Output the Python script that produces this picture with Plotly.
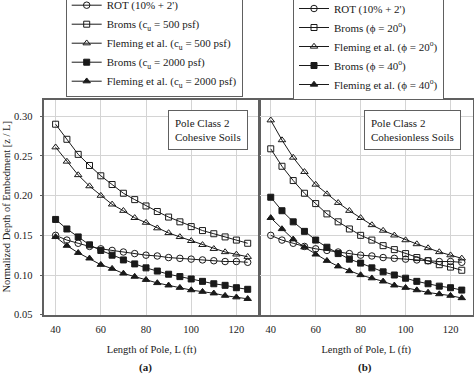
import plotly.graph_objects as go

# ---------------- data ----------------
pole_length = [40, 45, 50, 55, 60, 65, 70, 75, 80, 85, 90, 95, 100, 105, 110, 115, 120, 125]

rot = [0.150, 0.144, 0.140, 0.136, 0.133, 0.131, 0.129, 0.127, 0.125,
       0.124, 0.122, 0.121, 0.120, 0.119, 0.118, 0.117, 0.117, 0.116]

# (a) cohesive soils
broms_cu500 = [0.290, 0.271, 0.252, 0.238, 0.225, 0.214, 0.203, 0.195, 0.187,
               0.180, 0.173, 0.167, 0.161, 0.156, 0.152, 0.148, 0.144, 0.140]
fleming_cu500 = [0.261, 0.243, 0.226, 0.212, 0.200, 0.189, 0.181, 0.172, 0.166,
                 0.159, 0.153, 0.148, 0.143, 0.138, 0.133, 0.129, 0.126, 0.123]
broms_cu2000 = [0.170, 0.158, 0.148, 0.138, 0.131, 0.125, 0.119, 0.114, 0.109,
                0.105, 0.101, 0.098, 0.095, 0.092, 0.089, 0.087, 0.084, 0.082]
fleming_cu2000 = [0.148, 0.137, 0.128, 0.121, 0.113, 0.108, 0.102, 0.098, 0.094,
                  0.090, 0.087, 0.084, 0.081, 0.079, 0.077, 0.074, 0.072, 0.070]

# (b) cohesionless soils
broms_phi20 = [0.259, 0.237, 0.219, 0.203, 0.190, 0.177, 0.167, 0.158, 0.150,
               0.144, 0.137, 0.132, 0.127, 0.122, 0.118, 0.113, 0.110, 0.106]
fleming_phi20 = [0.295, 0.270, 0.248, 0.230, 0.214, 0.202, 0.191, 0.181, 0.172,
                 0.163, 0.156, 0.150, 0.144, 0.139, 0.134, 0.129, 0.125, 0.121]
broms_phi40 = [0.198, 0.181, 0.167, 0.155, 0.144, 0.135, 0.127, 0.120, 0.115,
               0.109, 0.104, 0.100, 0.096, 0.092, 0.089, 0.086, 0.084, 0.081]
fleming_phi40 = [0.172, 0.158, 0.145, 0.135, 0.126, 0.118, 0.111, 0.105, 0.100,
                 0.096, 0.092, 0.087, 0.084, 0.081, 0.078, 0.076, 0.074, 0.071]

x_ticks = [40, 60, 80, 100, 120]
y_ticks = [0.05, 0.10, 0.15, 0.20, 0.25, 0.30]

legend_a = ["ROT (10% + 2')", "Broms (c<sub>u</sub> = 500 psf)", "Fleming et al. (c<sub>u</sub> = 500 psf)",
            "Broms (c<sub>u</sub> = 2000 psf)", "Fleming et al. (c<sub>u</sub> = 2000 psf)"]
legend_b = ["ROT (10% + 2')", "Broms (\u03d5 = 20<sup>o</sup>)", "Fleming et al. (\u03d5 = 20<sup>o</sup>)",
            "Broms (\u03d5 = 40<sup>o</sup>)", "Fleming et al. (\u03d5 = 40<sup>o</sup>)"]

# ---------------- styling ----------------
FONT = "Liberation Serif"
INK = "#1a1a1a"
symbols = ["circle-open", "square-open", "triangle-up-open", "square", "triangle-up"]
sizes = [6.5, 6, 6.5, 6, 6.5]

fig = go.Figure()

series_a = [rot, broms_cu500, fleming_cu500, broms_cu2000, fleming_cu2000]
series_b = [rot, broms_phi20, fleming_phi20, broms_phi40, fleming_phi40]

for i, (name, ys) in enumerate(zip(legend_a, series_a)):
    fig.add_trace(go.Scatter(
        x=pole_length, y=ys, name=name, mode="lines+markers",
        line=dict(color=INK, width=1),
        marker=dict(symbol=symbols[i], size=sizes[i], color=INK, line=dict(color=INK, width=1)),
        xaxis="x", yaxis="y", legend="legend"))

for i, (name, ys) in enumerate(zip(legend_b, series_b)):
    fig.add_trace(go.Scatter(
        x=pole_length, y=ys, name=name, mode="lines+markers",
        line=dict(color=INK, width=1),
        marker=dict(symbol=symbols[i], size=sizes[i], color=INK, line=dict(color=INK, width=1)),
        xaxis="x2", yaxis="y2", legend="legend2"))

W, H = 474, 376
def px(xp):
    return xp / W
def py(yp):
    return (H - yp) / H

axis_common = dict(
    showgrid=True, gridcolor="#d4d4d4", gridwidth=1,
    showline=True, linecolor="#606060", linewidth=1.5, mirror=True,
    zeroline=False, tickfont=dict(family=FONT, size=10.5, color=INK),
)

y0, y1 = 0.05, 0.3205
xtitle = dict(text="Length of Pole, L (ft)", font=dict(family=FONT, size=10.5, color=INK), standoff=12)
fig.update_layout(
    width=W, height=H,
    margin=dict(l=0, r=0, t=0, b=0, autoexpand=False),
    paper_bgcolor="white", plot_bgcolor="white",
    font=dict(family=FONT, size=11, color=INK),
    xaxis=dict(domain=[px(44.3), px(259)], range=[35, 130], tickvals=x_ticks, anchor="y",
               title=xtitle, ticks="", ticklabelstandoff=4, **axis_common),
    yaxis=dict(domain=[py(314.7), py(100)], range=[y0, y1], tickvals=y_ticks, tickformat=".2f", anchor="x",
               ticks="outside", ticklen=3, tickcolor="#606060", ticklabelstandoff=5, **axis_common),
    xaxis2=dict(domain=[px(259.5), px(473)], range=[35, 130], tickvals=x_ticks, anchor="y2",
                title=xtitle, ticks="", ticklabelstandoff=4, **axis_common),
    yaxis2=dict(domain=[py(314.7), py(100)], range=[y0, y1], tickvals=y_ticks, anchor="x2",
                showticklabels=False, ticks="", **axis_common),
    legend=dict(x=px(65.7), y=py(96.7), xanchor="left", yanchor="bottom",
                bgcolor="white", bordercolor="#606060", borderwidth=1,
                font=dict(family=FONT, size=11, color=INK), itemwidth=30, tracegroupgap=0),
    legend2=dict(x=px(293), y=py(100), xanchor="left", yanchor="bottom",
                 bgcolor="white", bordercolor="#606060", borderwidth=1,
                 font=dict(family=FONT, size=11, color=INK), itemwidth=30, tracegroupgap=0),
    showlegend=True,
)

box = dict(showarrow=False, align="left", bordercolor="#606060", borderwidth=1, borderpad=6,
           bgcolor="white", font=dict(family=FONT, size=11, color=INK),
           xref="paper", yref="paper", xanchor="left", yanchor="top")
fig.add_annotation(text="Pole Class 2<br>Cohesive Soils", x=px(168), y=py(110), **box)
fig.add_annotation(text="Pole Class 2<br>Cohesionless Soils", x=px(364), y=py(109.5), **box)

# rotated y-axis title
fig.add_annotation(text="Normalized Depth of Embedment [z / L]", textangle=-90, showarrow=False,
                   xref="paper", yref="paper", x=px(6.5), y=py(207), xanchor="center", yanchor="middle",
                   font=dict(family=FONT, size=10.5, color=INK))

lab = dict(showarrow=False, xref="paper", yref="paper", xanchor="center", yanchor="bottom",
           font=dict(family=FONT, size=11, color=INK))
fig.add_annotation(text="<b>(a)</b>", x=px(145.5), y=py(376), **lab)
fig.add_annotation(text="<b>(b)</b>", x=px(365), y=py(376), **lab)

fig.write_html("out.html",
               config={"displayModeBar": False},
               post_script="document.body.style.margin='0';document.body.style.overflow='hidden';")
